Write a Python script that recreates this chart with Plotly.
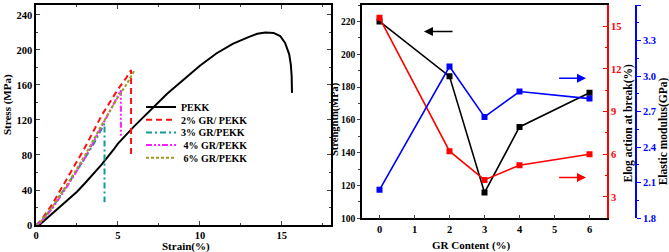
import plotly.graph_objects as go

# ---------------- data: left panel (stress-strain) ----------------
pekk_strain = [0.2, 1, 2, 2.5, 3, 4, 4.73, 5, 6, 7, 8, 9, 10, 11, 12, 13, 13.5, 14, 14.5, 14.9, 15.2, 15.45, 15.55, 15.6, 15.62]
pekk_stress = [0, 13, 30, 38, 48, 69, 86, 93, 113, 132, 150, 166, 182, 196, 207, 215, 218.5, 220, 219.5, 216, 208, 195, 183, 170, 151]

gr2_strain = [0, 0.3, 1, 2, 3, 4, 4.5, 5, 5.5, 5.8, 5.8]
gr2_stress = [0, 5, 24, 56, 89, 125, 140, 155, 168, 177, 78]

gr3_strain = [0, 0.3, 1, 2, 3, 3.5, 4.18, 4.18]
gr3_stress = [0, 4, 20, 48, 77, 92, 116, 26]

gr4_strain = [0, 0.3, 1, 2, 3, 4, 4.5, 5, 5.18, 5.18]
gr4_stress = [0, 3, 19, 47, 77, 112, 130, 148, 154, 101]

gr6_strain = [0, 0.3, 1, 2, 3, 4, 5, 5.5, 6.02]
gr6_stress = [0, 4, 21, 49, 80, 114, 146, 160, 177]

legend_names = ["PEKK", "2% GR/ PEKK", "3% GR/PEKK", " 4% GR/PEKK", " 6% GR/PEKK"]

# ---------------- data: right panel ----------------
gr_content = [0, 2, 3, 4, 6]
strength = [220, 186.5, 115.7, 155.7, 176.5]
elongation = [15.6, 6.22, 4.2, 5.23, 6.0]
modulus = [2.04, 3.08, 2.655, 2.87, 2.81]

W, H = 669, 252
FONT = "Liberation Serif"
T = dict(family=FONT, size=10.5, color="black", weight="bold")


def px_x(p):
    return p / W


PLOT_TOP, PLOT_BOT = 5, 225


def px_y(p):
    return (PLOT_BOT - p) / (PLOT_BOT - PLOT_TOP)


fig = go.Figure()

styles = [
    dict(color="black", width=2, dash="solid"),
    dict(color="#ff1010", width=2, dash="6px,4px"),
    dict(color="#139a9a", width=2, dash="6px,3px,2px,3px"),
    dict(color="#ff20ff", width=2, dash="6px,2px,2px,2px,2px,2px"),
    dict(color="#9a9a20", width=2, dash="3px,2px"),
]
series = [(pekk_strain, pekk_stress), (gr2_strain, gr2_stress), (gr3_strain, gr3_stress),
          (gr4_strain, gr4_stress), (gr6_strain, gr6_stress)]
legend_ids = ["legend", "legend2", "legend3", "legend4", "legend5"]
for (xs, ys), name, st, lg in zip(series, legend_names, styles, legend_ids):
    fig.add_trace(go.Scatter(x=xs, y=ys, mode="lines", name=name, line=st,
                             xaxis="x", yaxis="y", showlegend=True, legend=lg))

fig.add_trace(go.Scatter(x=gr_content, y=strength, mode="lines+markers", name="Strength",
                         line=dict(color="black", width=1.6),
                         marker=dict(symbol="square", size=6, color="black"),
                         xaxis="x2", yaxis="y2", showlegend=False))
fig.add_trace(go.Scatter(x=gr_content, y=elongation, mode="lines+markers", name="Elongation",
                         line=dict(color="#ff0000", width=1.6),
                         marker=dict(symbol="square", size=6, color="#ff0000"),
                         xaxis="x2", yaxis="y3", showlegend=False))
fig.add_trace(go.Scatter(x=gr_content, y=modulus, mode="lines+markers", name="Modulus",
                         line=dict(color="#0000ff", width=1.6),
                         marker=dict(symbol="square", size=6, color="#0000ff"),
                         xaxis="x2", yaxis="y4", showlegend=False))

left_dom = [px_x(36), px_x(331)]
right_dom = [px_x(362), px_x(607)]
right_ydom = [px_y(218.3), 1]

common = dict(tickfont=T, automargin=False, showgrid=False, zeroline=False)

LEG_FONT = dict(family=FONT, size=10, color="black", weight="bold")
legend_rows = [107, 119.7, 132.4, 145.1, 157.8]
legends = {}
for lg, row in zip(legend_ids, legend_rows):
    legends[lg] = dict(x=px_x(141), y=px_y(row), xanchor="left", yanchor="middle",
                       bgcolor="rgba(0,0,0,0)", font=LEG_FONT, itemwidth=30)

fig.update_layout(
    width=W, height=H,
    margin=dict(l=0, r=0, t=PLOT_TOP, b=H - PLOT_BOT),
    paper_bgcolor="white", plot_bgcolor="white",
    font=dict(family=FONT, size=10.5, color="black"),
    xaxis=dict(domain=left_dom, range=[0, 18], anchor="y", tickvals=[0, 5, 10, 15],
               ticks="inside", ticklen=4, tickwidth=1.2, showline=True, linewidth=1.5,
               linecolor="black", mirror="ticks",
               minor=dict(dtick=2.5, tick0=0, ticks="inside", ticklen=2.5, tickwidth=1), **common),
    yaxis=dict(domain=[0, 1], range=[0, 251.4], anchor="x", dtick=40, tick0=0,
               ticks="inside", ticklen=4, tickwidth=1.2, showline=True, linewidth=1.5,
               linecolor="black", mirror="ticks",
               minor=dict(dtick=20, tick0=0, ticks="inside", ticklen=2.5, tickwidth=1), **common),
    xaxis2=dict(domain=right_dom, range=[-0.5, 6.5], anchor="y2", dtick=1, tick0=0,
                ticks="inside", ticklen=4, tickwidth=1.2, showline=True, linewidth=1.6,
                linecolor="black", mirror=True, **common),
    yaxis2=dict(domain=right_ydom, range=[100, 230], anchor="x2", dtick=20, tick0=100,
                ticks="outside", ticklen=3, tickwidth=1.2, showline=True, linewidth=1.6,
                linecolor="black",
                minor=dict(dtick=10, tick0=100, ticks="outside", ticklen=2, tickwidth=1),
                tickfont=dict(T, size=9.5), automargin=False, showgrid=False, zeroline=False),
    yaxis3=dict(overlaying="y2", side="right", anchor="x2", range=[1.5, 16.5], dtick=3, tick0=0,
                ticks="inside", ticklen=4, tickwidth=1.2, showline=True, linewidth=1.6,
                linecolor="#ff0000", tickcolor="#ff0000",
                minor=dict(dtick=1.5, tick0=0, ticks="inside", ticklen=2.5, tickwidth=1, tickcolor="#ff0000"),
                tickfont=dict(T, color="#ff0000"), automargin=False, showgrid=False, zeroline=False),
    yaxis4=dict(overlaying="y2", side="right", anchor="free", position=px_x(636),
                range=[1.8, 3.6], dtick=0.3, tick0=1.8, tickformat=".1f",
                ticks="outside", ticklen=4, tickwidth=1.2, showline=True, linewidth=1.6,
                linecolor="#0000ff", tickcolor="#0000ff",
                minor=dict(dtick=0.15, tick0=1.8, ticks="outside", ticklen=2.5, tickwidth=1, tickcolor="#0000ff"),
                tickfont=dict(T, color="#0000ff"), automargin=False, showgrid=False, zeroline=False),
    **legends,
)

TT = dict(family=FONT, size=11, color="black", weight="bold")
titles = [
    ("Stress (MPa)", 7.5, 104.5, -90, 11),
    ("Strain(%)", 186, 246, 0, 11),
    ("Strenghth(MPa)", 335, 119, -90, 10.5),
    ("GR Content (%)", 471, 245.7, 0, 11),
    ("Elog action at break(%)", 627.5, 124, -90, 11.5),
    ("Elastic modulus(GPa)", 663.3, 131, -90, 11.5),
]
for text, xp, yp, ang, fs in titles:
    fig.add_annotation(text=text, xref="paper", yref="paper", x=px_x(xp), y=px_y(yp),
                       xanchor="center", yanchor="middle", textangle=ang, showarrow=False,
                       font=dict(TT, size=fs))

# indicator arrows (head, tail) in right-panel data coordinates
arrows = [((1.27, 213.9), (2.13, 213.9), "black"),
          ((5.9, 185.3), (5.09, 185.3), "#0000ff"),
          ((5.9, 124.9), (5.09, 124.9), "#ff0000")]
for (hx, hy), (tx, ty), col in arrows:
    fig.add_annotation(x=hx, y=hy, ax=tx, ay=ty, xref="x2", yref="y2", axref="x2", ayref="y2",
                       showarrow=True, arrowhead=2, arrowsize=1.2, arrowwidth=1.5, arrowcolor=col, text="")

fig.write_html("out.html", config={"displayModeBar": False},
               post_script="document.body.style.margin='0';document.body.style.overflow='hidden';")
